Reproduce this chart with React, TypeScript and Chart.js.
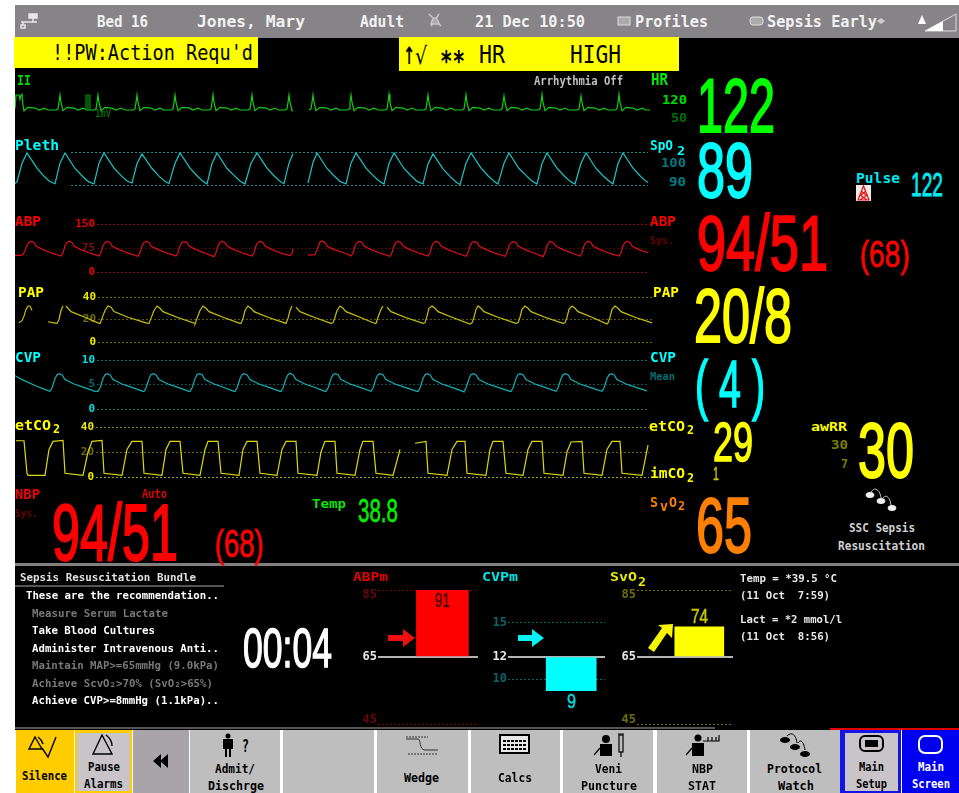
import React, { useEffect, useRef } from "react";
import { Chart, registerables } from "chart.js";

Chart.register(...registerables);

type P = [number, number | null];

// ---- waveform samples: [time, value] ----
const ecgWave: P[] = [
  [15,0.1],[16,1],[19,1],[20,0.7],[21,1],[22,1.05],[23,0.3],[24,-0.05],[28,0.18],[35,0.13],[39,0],[44,0.12],[48,0],
  [56,0],[58,0.08],[59,0.5],[60,1],[61,0.5],[63,-0.05],[67,0.18],[74,0.13],[78,0],[83,0.12],[87,0],
  [94,0],[96,0.08],[97,0.5],[98,1],[99,0.5],[101,-0.05],[105,0.17],[112,0.12],[116,0],[121,0.13],[125,0],
  [133,0],[135,0.08],[136,0.5],[137,1],[138,0.5],[140,-0.05],[144,0.18],[151,0.13],[155,0],[160,0.12],[164,0],
  [171,0],[173,0.08],[174,0.5],[175,1],[176,0.5],[178,-0.05],[182,0.18],[189,0.14],[193,0],[198,0.12],[202,0],
  [209,0],[211,0.08],[212,0.5],[213,1.02],[214,0.5],[216,-0.05],[220,0.18],[227,0.13],[231,0],[236,0.12],[240,0],
  [248,0],[250,0.08],[251,0.5],[252,1],[253,0.5],[255,-0.05],[259,0.18],[266,0.13],[270,0],[275,0.13],[279,0],
  [285,0],[287,0.08],[288,0.5],[289,1],[290,0.5],[292,-0.05],[293,0],[294,null],
  [309,0],[311,0.08],[312,0.5],[313,1],[314,0.5],[316,-0.05],[320,0.18],[327,0.13],[331,0],[336,0.12],[340,0],
  [347,0],[349,0.08],[350,0.5],[351,1],[352,0.5],[354,-0.05],[358,0.18],[365,0.13],[369,0],[374,0.12],[378,0],
  [385,0],[387,0.08],[388,0.5],[389,1.05],[390,0.5],[392,-0.05],[396,0.18],[403,0.13],[407,0],[412,0.13],[416,0],
  [424,0],[426,0.08],[427,0.5],[428,1],[429,0.5],[431,-0.05],[435,0.18],[442,0.13],[446,0],[451,0.12],[455,0],
  [462,0],[464,0.08],[465,0.5],[466,1.02],[467,0.5],[469,-0.05],[473,0.18],[480,0.13],[484,0],[489,0.12],[493,0],
  [500,0],[502,0.08],[503,0.5],[504,0.95],[505,0.5],[507,-0.05],[511,0.18],[518,0.13],[522,0],[527,0.12],[531,0],
  [538,0],[540,0.08],[541,0.5],[542,1.03],[543,0.5],[545,-0.05],[549,0.18],[556,0.13],[560,0],[565,0.13],[569,0],
  [577,0],[579,0.08],[580,0.5],[581,0.95],[582,0.5],[584,-0.05],[588,0.18],[595,0.13],[599,0],[604,0.12],[608,0],
  [615,0],[617,0.08],[618,0.5],[619,1.05],[620,0.5],[622,-0.05],[626,0.18],[633,0.13],[637,0],[642,0.12],[646,0],[650,0],
];
const calPulse: P[] = [[86,0],[86,1.05],[87,null],[88,1.05],[88,0],[89,null],[90,0],[90,1.05]];

const plethWave: P[] = [
  [15,4],[17,10],[22,66],[27,97],[37,51],[43,30],[49,12],[55,4],
  [60,66],[65,97],[75,50],[82,28],[88,11],[94,3],
  [99,66],[104,97],[114,51],[121,29],[127,12],[132,6],
  [137,65],[142,94],[152,50],[159,27],[165,11],[169,4],
  [175,66],[180,97],[190,51],[197,28],[203,11],[207,3],
  [212,65],[217,97],[227,50],[234,29],[240,12],[245,3],
  [251,66],[257,97],[267,51],[274,28],[280,11],[284,4],
  [289,66],[293,95],[294,null],
  [308,6],[313,68],[317,97],[327,50],[334,28],[340,11],[346,3],
  [351,66],[356,97],[366,51],[373,29],[379,12],[384,3],
  [389,65],[394,97],[404,50],[411,28],[417,11],[423,3],
  [428,64],[433,94],[443,49],[450,26],[456,9],[460,1],
  [466,66],[471,97],[481,51],[488,28],[494,11],[498,3],
  [504,66],[509,97],[519,50],[526,29],[532,12],[537,3],
  [542,65],[547,97],[557,51],[564,28],[570,11],[575,3],
  [581,66],[586,97],[596,50],[603,28],[609,12],[613,3],
  [618,65],[623,97],[633,51],[640,28],[646,11],[648,8],
];

const abpWave: P[] = [
  [15,52],[20,52],[23,54],[25,66],[27,84],[29,92],[31,96],[34,92],[36,81],[43,70],[53,58],
  [61,50],[63,60],[65,82],[67,92],[69,96],[72,92],[74,81],[81,70],[91,58],
  [99,50],[101,60],[103,82],[105,92],[107,96],[110,92],[112,81],[119,70],[129,58],
  [138,49],[140,60],[142,82],[144,92],[146,96],[149,92],[151,81],[158,70],[168,58],
  [176,50],[178,60],[180,82],[182,92],[184,95],[187,92],[189,81],[196,70],[206,58],
  [214,48],[216,60],[218,82],[220,92],[222,96],[225,92],[227,81],[234,70],[244,58],
  [252,50],[254,60],[256,82],[258,92],[260,96],[263,92],[265,81],[272,70],[282,58],
  [290,51],[292,58],[293,72],[294,null],
  [308,53],[315,54],[317,70],[319,86],[320,94],[322,97],[325,92],[327,81],[334,70],[344,60],
  [351,50],[353,60],[355,82],[357,92],[359,96],[362,92],[364,81],[371,70],[381,58],
  [390,49],[392,60],[394,82],[396,92],[398,96],[401,92],[403,81],[410,70],[420,58],
  [428,50],[430,60],[432,82],[434,92],[436,96],[439,92],[441,81],[448,70],[458,58],
  [466,49],[468,60],[470,82],[472,92],[474,95],[477,92],[479,81],[486,70],[496,58],
  [505,49],[507,60],[509,82],[511,91],[513,95],[516,92],[518,81],[525,70],[535,58],
  [543,48],[545,60],[547,82],[549,92],[550,96],[553,92],[556,81],[563,70],[573,58],
  [580,50],[582,60],[584,82],[586,92],[588,96],[591,92],[593,81],[600,70],[610,58],
  [619,50],[621,60],[623,82],[625,92],[627,96],[630,92],[632,81],[639,70],[648,60],
];

const papWave: P[] = [
  [19,17],[22,19],[24,23],[26,29],[28,32],[30,32],[32,28],[33,null],
  [48,18],[54,17],[57,16.5],[59,20],[61,28],[63,32],[65,null],
  [66,32],[71,27],[85,22],[98,17],[100,16.5],[102,21],[105,28],[108,32],[111,31],[114,27],[128,22],[146,17],
  [149,16.5],[151,21],[154,28],[157,32],[160,30],[163,27],[177,22],[195,16.5],
  [195,16],[197,21],[200,28],[203,32],[206,30],[209,27],[223,22],[240,16.5],
  [241,16.5],[243,21],[245,28],[248,32],[251,30],[254,27],[268,22],[286,16.5],
  [286,16.5],[288,21],[290,28],[292,32],[294,null],
  [296,31],[300,27],[314,22],[331,16.5],
  [333,17],[335,22],[337,28],[340,32],[343,30],[346,27],[360,22],[375,16.5],
  [376,16.5],[378,22],[381,29],[383,32],[385,null],
  [387,31],[391,27],[405,22],[423,16.5],
  [425,17],[427,23],[429,30],[432,32],[435,30],[438,27],[452,22],[470,16],
  [472,17],[474,22],[476,29],[478,32],[481,30],[484,27],[498,22],[516,16.5],
  [518,17],[520,22],[522,29],[525,32],[528,30],[531,27],[545,22],[563,16.5],
  [565,17],[567,22],[569,29],[572,32],[575,30],[578,27],[592,22],[607,16],
  [608,17],[610,22],[612,29],[615,32],[618,30],[621,27],[635,22],[652,17],
];

const cvpWave: P[] = [
  [15,6.8],[22,6],[35,4.8],[46,3.9],[50,3.6],[52,4.3],[55,6.2],[57,7],[59,7.2],[62,7],[65,6],[74,5.1],[84,4.4],[95,3.6],
  [98,3.6],[100,4.3],[103,6.2],[105,7],[107,7.2],[110,7],[113,6],[122,5.1],[132,4.4],[143,3.6],
  [144,3.6],[146,4.3],[149,6.2],[151,7],[153,7.2],[156,7],[159,6],[168,5.1],[178,4.4],[189,3.6],
  [190,3.6],[192,4.3],[195,6.2],[197,7],[199,7.2],[202,7],[205,6],[214,5.1],[224,4.4],[234,3.6],
  [235,3.6],[237,4.3],[240,6.2],[242,7],[244,7.2],[247,7],[250,6],[259,5.1],[269,4.4],[280,3.6],
  [281,3.6],[283,4.3],[286,6.2],[288,7],[290,7.3],[293,7],[296,6],[305,5.1],[315,4.4],[325,3.6],
  [326,3.6],[328,4.3],[331,6.2],[333,7],[335,7.2],[338,7],[341,6],[350,5.1],[360,4.4],[371,3.6],
  [371,3.6],[373,4.3],[376,6.2],[378,7],[380,7.2],[383,7],[386,6],[395,5.1],[405,4.4],[417,3.6],
  [418,3.6],[420,4.3],[423,6.2],[425,7],[427,7.2],[430,7],[433,6],[442,5.1],[452,4.4],[464,3.5],
  [464,3.6],[466,4.3],[469,6.2],[471,7],[473,7.2],[476,7],[479,6],[488,5.1],[498,4.4],[510,3.6],
  [511,3.6],[513,4.3],[516,6.2],[518,7],[520,7.2],[523,7],[526,6],[535,5.1],[545,4.4],[556,3.6],
  [556,3.6],[558,4.3],[561,6.2],[563,7],[565,7.2],[568,7],[571,6],[580,5.1],[590,4.4],[602,3.6],
  [602,3.6],[604,4.3],[607,6.2],[609,7],[611,7.2],[614,7],[617,6],[626,5.1],[636,4.4],[647,3.7],
];

const co2Wave: P[] = [
  [16,29],[24,29],[27,3],[28,1.3],[45,1.3],[49,22],[53,28.5],[63,29.3],[65,3],[83,1.3],[88,20],[92,28.5],[102,29.3],[104,3],
  [122,1.3],[127,22],[132,28.5],[142,28.5],[144,3],[162,1.3],[166,22],[170,28.5],[180,28.5],[183,3],[200,1.3],[205,22],[208,28.5],
  [218,28.5],[221,3],[239,1.3],[243,22],[247,28.5],[257,28.5],[260,3],[277,1.3],[282,22],[286,28.5],[296,28.5],[298,3],[317,1.3],[321,20],
  [325,28.5],[335,28.5],[337,3],[355,1.3],[360,22],[363,28.5],[373,28.5],[376,3],[393,1.3],[400,22],[401,null],
  [415,27],[426,28.5],[428,3],[447,1.3],[452,22],[457,28.5],[465,28.5],[467,3],[486,1.3],[490,22],[493,28.5],[503,28.5],[506,3],
  [523,1.3],[528,22],[532,28.5],[542,28.5],[544,3],[563,1.3],[567,20],[571,28],[582,28.5],[584,3],[602,1.3],[607,22],[612,28.5],
  [620,28.5],[622,3],[642,1.3],[648,25.5],
];

// ---- target bars ----
const abpmValues = [91];
const cvpmValues = [9];
const svo2Values = [74];

const abpTicks = [150, 75, 0];
const papTicks = [40, 20, 0];
const cvpTicks = [10, 5, 0];
const co2Ticks = [40, 20, 0];
const plethTicks = [100, 0];
const abpmTicks = [85, 65, 45];
const cvpmTicks = [15, 12, 10];
const svo2Ticks = [85, 65, 45];

const MONO = '"DejaVu Sans Mono", monospace';
const BIG = '"Liberation Sans", Arial, sans-serif';

const toXY = (pts: P[]) => pts.map(([x, y]) => ({ x, y }));

function waveConfig(o: any) {
  const PAD = 10;
  const canvasL = 15;
  const canvasR = 660;
  return {
    box: { left: canvasL, top: o.yTop - PAD, width: canvasR - canvasL, height: o.yBot - o.yTop + 2 * PAD },
    config: {
      type: "line",
      data: {
        datasets: o.series.map((s: any) => ({
          data: toXY(s.pts),
          borderColor: s.color,
          borderWidth: 1.2,
          pointRadius: 0,
          tension: 0,
          clip: false,
          spanGaps: false,
        })),
      },
      options: {
        animation: false,
        responsive: false,
        events: [],
        layout: { padding: { top: PAD, bottom: PAD, left: 0, right: canvasR - o.gridR } },
        plugins: { legend: { display: false }, tooltip: { enabled: false } },
        scales: {
          x: {
            type: "linear",
            display: false,
            afterBuildTicks: (s: any) => {
              s.min = o.gridL;
              s.max = o.gridR;
            },
          },
          y: {
            display: o.ticks ? true : false,
            min: o.min,
            max: o.max,
            afterFit: (s: any) => {
              s.width = o.gridL - canvasL;
            },
            afterBuildTicks: (s: any) => {
              if (o.ticks) s.ticks = o.ticks.map((value: number) => ({ value }));
            },
            border: { display: false, dash: [2, 2] },
            grid: {
              drawTicks: false,
              color: (c: any) => (o.gridColors ? o.gridColors[c.index] : "transparent"),
              lineWidth: 1,
            },
            ticks: {
              display: !o.hideLabels,
              autoSkip: false,
              padding: 2,
              color: (c: any) => (o.tickColors ? o.tickColors[c.index] : "#fff"),
              font: { family: MONO, size: 11, weight: "bold" },
              callback: (v: any) => String(v),
            },
          },
        },
      },
    },
  };
}

function barConfig(o: any) {
  const canvasL = o.gridL - 30;
  const canvasR = o.gridR + 4;
  const PAD = 9;
  return {
    box: { left: canvasL, top: o.yTop - PAD, width: canvasR - canvasL, height: o.yBot - o.yTop + 2 * PAD },
    config: {
      type: "bar",
      data: {
        datasets: [
          {
            data: o.values.map((y: number) => ({ x: o.center, y })),
            base: o.base,
            barThickness: o.thickness,
            backgroundColor: o.color,
            borderWidth: 0,
          },
        ],
      },
      options: {
        animation: false,
        responsive: false,
        events: [],
        layout: { padding: { top: PAD, bottom: PAD, left: 0, right: canvasR - o.gridR } },
        plugins: { legend: { display: false }, tooltip: { enabled: false } },
        scales: {
          x: { type: "linear", display: false, offset: false, min: o.gridL, max: o.gridR, grid: { offset: false } },
          y: {
            min: o.min,
            max: o.max,
            afterFit: (s: any) => {
              s.width = o.gridL - canvasL;
            },
            afterBuildTicks: (s: any) => {
              s.ticks = o.ticks.map((value: number) => ({ value }));
            },
            border: {
              display: false,
              dash: (c: any) => (o.ticks[c.index] === o.base ? [] : [2, 2]),
            },
            grid: {
              drawTicks: false,
              color: (c: any) => (o.ticks[c.index] === o.base ? "#b4b4b4" : o.dim),
              lineWidth: (c: any) => (o.ticks[c.index] === o.base ? 2 : 1),
            },
            ticks: {
              autoSkip: false,
              padding: 1,
              color: (c: any) => (o.ticks[c.index] === o.base ? "#e8e8e8" : o.dimText),
              font: { family: MONO, size: 12, weight: "bold", lineHeight: "9px" },
              // the outer labels sit just inside the dotted limit lines
              callback: (v: any) => {
                if (!o.insetLabels || v === o.base) return String(v);
                return v === o.max ? ["", String(v)] : [String(v), ""];
              },
            },
          },
        },
      },
    },
  };
}

const charts = [
  waveConfig({ series: [{ pts: calPulse, color: "#0a8f0a" }, { pts: ecgWave, color: "#14cc14" }], yTop: 90, yBot: 120, gridL: 15, gridR: 650, min: -0.667, max: 1.333 }),
  waveConfig({ series: [{ pts: plethWave, color: "#1cc4c8" }], yTop: 152, yBot: 185, gridL: 71, gridR: 648, min: 0, max: 100, ticks: plethTicks, hideLabels: true, gridColors: ["#168f90", "#168f90"] }),
  waveConfig({ series: [{ pts: abpWave, color: "#dc0f18" }], yTop: 224, yBot: 272, gridL: 97, gridR: 649, min: 0, max: 150, ticks: abpTicks, gridColors: ["#7a0c0c", "#4a0808", "#7a0c0c"], tickColors: ["#e80000", "#7a1414", "#e80000"] }),
  waveConfig({ series: [{ pts: papWave, color: "#c8c008" }], yTop: 297, yBot: 342, gridL: 98, gridR: 652, min: 0, max: 40, ticks: papTicks, gridColors: ["#6e6a08", "#5a5806", "#6e6a08"], tickColors: ["#f0ec00", "#6e6c10", "#f0ec00"] }),
  waveConfig({ series: [{ pts: cvpWave, color: "#16b0b4" }], yTop: 360, yBot: 409, gridL: 97, gridR: 649, min: 0, max: 10, ticks: cvpTicks, gridColors: ["#0c7074", "#085054", "#0c7074"], tickColors: ["#00e0e4", "#0a6a6c", "#00e0e4"] }),
  waveConfig({ series: [{ pts: co2Wave, color: "#dcd810" }], yTop: 427, yBot: 477, gridL: 96, gridR: 649, min: 0, max: 40, ticks: co2Ticks, gridColors: ["#86820c", "#6a680a", "#a8a40c"], tickColors: ["#f0ec00", "#6e6c10", "#f0ec00"] }),
  barConfig({ values: abpmValues, ticks: abpmTicks, base: 65, color: "#ff0000", gridL: 378, gridR: 478, center: 442.4, thickness: 52, yTop: 589, yBot: 725, min: 45, max: 85, insetLabels: true, dim: "#6a0808", dimText: "#6a0808" }),
  barConfig({ values: cvpmValues, ticks: cvpmTicks, base: 12, color: "#00ffff", gridL: 508, gridR: 605, center: 571.2, thickness: 50, yTop: 611, yBot: 702, min: 8, max: 16, dim: "#0a6468", dimText: "#0a6468" }),
  barConfig({ values: svo2Values, ticks: svo2Ticks, base: 65, color: "#ffff00", gridL: 637, gridR: 733, center: 699.3, thickness: 49, yTop: 589, yBot: 725, min: 45, max: 85, insetLabels: true, dim: "#6e6c08", dimText: "#6e6c08" }),
];

function ChartCanvas({ box, config }: any) {
  const ref = useRef<HTMLCanvasElement | null>(null);
  useEffect(() => {
    const chart = new Chart(ref.current as any, config);
    return () => chart.destroy();
  }, []);
  return (
    <canvas
      ref={ref}
      width={box.width}
      height={box.height}
      style={{ position: "absolute", left: box.left, top: box.top, width: box.width, height: box.height }}
    />
  );
}

let measureCtx: CanvasRenderingContext2D | null = null;
function measure(font: string, text: string) {
  if (!measureCtx) measureCtx = document.createElement("canvas").getContext("2d");
  const c = measureCtx as CanvasRenderingContext2D;
  c.font = font;
  const m = c.measureText(text);
  return { w: m.width, a: m.fontBoundingBoxAscent, d: m.fontBoundingBoxDescent };
}

// text fitted to x1..x2 with its baseline at `base`
function T({ s, x1, x2, base, size, color, family = MONO, weight = 700, stroke = 0 }: any) {
  const font = `${weight} ${size}px ${family}`;
  const m = measure(font, s);
  return (
    <span
      style={{
        position: "absolute",
        left: x1,
        top: base - m.a,
        font,
        lineHeight: `${m.a + m.d}px`,
        color,
        whiteSpace: "pre",
        transformOrigin: "left top",
        transform: `scaleX(${(x2 - x1) / m.w})`,
        WebkitTextStroke: stroke ? `${stroke}px ${color}` : undefined,
      }}
    >
      {s}
    </span>
  );
}

// tall condensed numerals
function N({ s, x1, x2, top, base, color }: any) {
  const size = (base - top) / 0.71;
  return <T s={s} x1={x1} x2={x2} base={base} size={size} color={color} family={BIG} weight={400} stroke={size * 0.025} />;
}

function Btn({ x, w, bg }: any) {
  return <div style={{ position: "absolute", left: x, top: 730, width: w, height: 63, background: bg }} />;
}

const B = "#000000";
const WH = "#f2f2f2";

export default function App() {
  return (
    <div style={{ position: "absolute", left: 0, top: 0, width: 959, height: 793, background: "#fff", overflow: "hidden" }}>
      <div style={{ position: "absolute", left: 15, top: 5, width: 944, height: 725, background: "#000" }} />
      <div style={{ position: "absolute", left: 15, top: 5, width: 944, height: 32.5, background: "#878487" }} />

      {/* alarm bars */}
      <div style={{ position: "absolute", left: 14, top: 37, width: 244, height: 31, background: "#ffff00" }} />
      <div style={{ position: "absolute", left: 399, top: 37, width: 280, height: 34, background: "#ffff00" }} />

      {/* dividers */}
      <div style={{ position: "absolute", left: 15, top: 563, width: 944, height: 3, background: "#808080" }} />
      <div style={{ position: "absolute", left: 15, top: 585, width: 209, height: 1.5, background: "#555" }} />
      <div style={{ position: "absolute", left: 15, top: 727, width: 700, height: 2, background: "#555" }} />
      <div style={{ position: "absolute", left: 830, top: 728, width: 129, height: 2, background: "#e00000" }} />

      {/* softkeys */}
      <Btn x={16} w={58} bg="#ffcc00" />
      <Btn x={75} w={57} bg="#ffcc00" />
      <div style={{ position: "absolute", left: 77, top: 733, width: 53, height: 58, background: "#c8c4c8" }} />
      <Btn x={133} w={56} bg="#a8a4a8" />
      <Btn x={190} w={90} bg="#bebebe" />
      <Btn x={283} w={91} bg="#bebebe" />
      <Btn x={377} w={91} bg="#bebebe" />
      <Btn x={471} w={89} bg="#bebebe" />
      <Btn x={563} w={90} bg="#bebebe" />
      <Btn x={657} w={90} bg="#bebebe" />
      <Btn x={750} w={90} bg="#bebebe" />
      <Btn x={840} w={61} bg="#1414e6" />
      <div style={{ position: "absolute", left: 845, top: 733, width: 53, height: 58, background: "#c8c4c8" }} />
      <Btn x={902} w={57} bg="#0000f0" />

      {charts.map((c, i) => (
        <ChartCanvas key={i} box={c.box} config={c.config} />
      ))}

      {/* header */}
      <T s="Bed 16" x1={97} x2={148} base={27} size={15} color={WH} />
      <T s="Jones, Mary" x1={197} x2={305} base={27} size={15} color={WH} />
      <T s="Adult" x1={360} x2={404} base={27} size={15} color={WH} />
      <T s="21 Dec 10:50" x1={475} x2={585} base={27} size={15} color={WH} />
      <T s="Profiles" x1={635} x2={708} base={27} size={15} color={WH} />
      <T s="Sepsis Early" x1={767} x2={877} base={27} size={15} color={WH} />

      <T s="!!PW:Action Requ'd" x1={52} x2={253} base={60} size={22} color={B} weight={400} />
      <T s="↑" x1={403} x2={415} base={64} size={24} color={B} family='"DejaVu Sans"' />
      <T s="√" x1={415} x2={427} base={64} size={24} color={B} family='"DejaVu Sans"' weight={400} />
      <T s="**" x1={440} x2={465} base={71} size={28} color={B} />
      <T s="HR" x1={479} x2={505} base={63} size={25} color={B} weight={400} />
      <T s="HIGH" x1={570} x2={621} base={63} size={25} color={B} weight={400} />

      {/* ECG */}
      <T s="II" x1={17} x2={31} base={85} size={14} color="#00e000" />
      <T s="Arrhythmia Off" x1={534} x2={623} base={85} size={12} color="#c0c0c0" />
      <T s="1mV" x1={95} x2={111} base={117} size={10} color="#0a8a0a" weight={400} />
      <T s="HR" x1={651} x2={668} base={85} size={15} color="#00f000" />
      <T s="120" x1={662} x2={687} base={104} size={13} color="#00d800" />
      <T s="50" x1={671} x2={687} base={122} size={13} color="#007000" />
      <N s="122" x1={697} x2={775} top={78} base={132} color="#00ff00" />

      {/* Pleth */}
      <T s="Pleth" x1={15} x2={59} base={150} size={14} color="#00ffff" />
      <T s="SpO" x1={650} x2={673} base={150} size={14} color="#00ffff" />
      <T s="2" x1={677} x2={685} base={155} size={13} color="#00ffff" />
      <T s="100" x1={661} x2={686} base={167} size={13} color="#007a80" />
      <T s="90" x1={669} x2={686} base={186} size={13} color="#007a80" />
      <N s="89" x1={697} x2={753} top={142} base={197} color="#00ffff" />
      <T s="Pulse" x1={856} x2={900} base={183} size={14} color="#00e8f0" />
      <N s="122" x1={911} x2={943} top={173} base={196} color="#00e8f0" />

      {/* ABP */}
      <T s="ABP" x1={15} x2={41} base={226} size={14} color="#ff0000" />
      <T s="ABP" x1={650} x2={676} base={226} size={14} color="#ff0000" />
      <T s="Sys." x1={650} x2={674} base={244} size={11} color="#6a0000" />
      <N s="94/51" x1={697} x2={828} top={215} base={270} color="#ff0000" />
      <N s="(68)" x1={860} x2={910} top={241} base={267} color="#ff0000" />

      {/* PAP */}
      <T s="PAP" x1={18} x2={44} base={297} size={14} color="#ffff00" />
      <T s="PAP" x1={653} x2={679} base={297} size={14} color="#ffff00" />
      <N s="20/8" x1={694} x2={792} top={288} base={342} color="#ffff00" />

      {/* CVP */}
      <T s="CVP" x1={15} x2={41} base={362} size={14} color="#00ffff" />
      <T s="CVP" x1={650} x2={676} base={362} size={14} color="#00ffff" />
      <T s="Mean" x1={650} x2={675} base={380} size={11} color="#007076" />
      <N s="( 4 )" x1={695} x2={765} top={360} base={407} color="#00ffff" />

      {/* CO2 */}
      <T s="etCO" x1={15} x2={51} base={430} size={14} color="#ffff00" />
      <T s="2" x1={53} x2={60} base={433} size={13} color="#ffff00" />
      <T s="etCO" x1={649} x2={685} base={431} size={14} color="#ffff00" />
      <T s="2" x1={687} x2={694} base={434} size={13} color="#ffff00" />
      <T s="imCO" x1={650} x2={685} base={478} size={14} color="#ffff00" />
      <T s="2" x1={687} x2={694} base={482} size={13} color="#ffff00" />
      <N s="29" x1={713} x2={753} top={421} base={461} color="#ffff00" />
      <N s="1" x1={713} x2={719} top={467} base={480} color="#c8c800" />
      <T s="awRR" x1={811} x2={847} base={431} size={13} color="#ffff00" />
      <T s="30" x1={831} x2={848} base={449} size={13} color="#7a7a00" />
      <T s="7" x1={841} x2={848} base={468} size={13} color="#7a7a00" />
      <N s="30" x1={858} x2={914} top={422} base={477} color="#ffff00" />

      <T s="SSC Sepsis" x1={849} x2={915} base={532} size={12} color="#d0d0d0" />
      <T s="Resuscitation" x1={838} x2={925} base={550} size={12} color="#d0d0d0" />

      {/* SvO2 */}
      <T s="S" x1={650} x2={658} base={507} size={14} color="#ff8000" />
      <T s="v" x1={660} x2={668} base={511} size={14} color="#ff8000" />
      <T s="O" x1={669} x2={677} base={507} size={14} color="#ff8000" />
      <T s="2" x1={678} x2={685} base={510} size={13} color="#ff8000" />
      <N s="65" x1={696} x2={752} top={497} base={552} color="#ff8000" />

      {/* NBP */}
      <T s="NBP" x1={15} x2={40} base={499} size={14} color="#f00000" />
      <T s="Sys." x1={15} x2={38} base={517} size={11} color="#6a0000" />
      <T s="Auto" x1={142} x2={167} base={498} size={12} color="#e00000" />
      <N s="94/51" x1={52} x2={178} top={504} base={560} color="#ff0000" />
      <N s="(68)" x1={215} x2={264} top={529} base={557} color="#ff0000" />

      <T s="Temp" x1={312} x2={346} base={508} size={13} color="#00f000" />
      <N s="38.8" x1={358} x2={398} top={499} base={522} color="#00ee00" />

      {/* bundle */}
      <T s="Sepsis Resuscitation Bundle" x1={20} x2={196} base={581} size={11} color="#e0e0e0" />
      <T s="These are the recommendation.." x1={26} x2={219} base={599} size={11} color="#ffffff" />
      <T s="Measure Serum Lactate" x1={32} x2={168} base={617} size={11} color="#787878" />
      <T s="Take Blood Cultures" x1={32} x2={155} base={634} size={11} color="#ffffff" />
      <T s="Administer Intravenous Anti.." x1={32} x2={219} base={652} size={11} color="#ffffff" />
      <T s="Maintain MAP>=65mmHg (9.0kPa)" x1={32} x2={219} base={669} size={11} color="#787878" />
      <T s="Achieve ScvO₂>70% (SvO₂>65%)" x1={32} x2={213} base={687} size={11} color="#787878" />
      <T s="Achieve CVP>=8mmHg (1.1kPa).." x1={32} x2={219} base={704} size={11} color="#ffffff" />
      <N s="00:04" x1={243} x2={332} top={628} base={667} color="#ffffff" />

      {/* target indicators */}
      <T s="ABPm" x1={353} x2={388} base={581} size={13} color="#e80000" />
      <T s="CVPm" x1={482} x2={518} base={581} size={13} color="#00e8e8" />
      <T s="SvO" x1={610} x2={637} base={581} size={13} color="#e8e800" />
      <T s="2" x1={638} x2={646} base={586} size={13} color="#e8e800" />
      <N s="91" x1={435} x2={450} top={592} base={607} color="#4a0c0c" />
      <N s="9" x1={567} x2={576} top={693} base={708} color="#00d8dc" />
      <N s="74" x1={691} x2={708} top={608} base={623} color="#c8c800" />

      <T s="Temp = *39.5 °C" x1={740} x2={837} base={582} size={11} color="#e8e8e8" />
      <T s="(11 Oct  7:59)" x1={740} x2={830} base={599} size={11} color="#e8e8e8" />
      <T s="Lact = *2 mmol/l" x1={740} x2={842} base={623} size={11} color="#e8e8e8" />
      <T s="(11 Oct  8:56)" x1={740} x2={830} base={640} size={11} color="#e8e8e8" />

      {/* softkey text */}
      <T s="Silence" x1={22} x2={67} base={780} size={12} color={B} />
      <T s="Pause" x1={88} x2={120} base={771} size={12} color={B} />
      <T s="Alarms" x1={84} x2={123} base={788} size={12} color={B} />
      <T s="?" x1={242} x2={249} base={752} size={17} color={B} />
      <T s="Admit/" x1={215} x2={255} base={773} size={12} color={B} />
      <T s="Dischrge" x1={208} x2={264} base={790} size={12} color={B} />
      <T s="Wedge" x1={404} x2={439} base={782} size={12} color={B} />
      <T s="Calcs" x1={498} x2={532} base={782} size={12} color={B} />
      <T s="Veni" x1={595} x2={622} base={773} size={12} color={B} />
      <T s="Puncture" x1={581} x2={637} base={790} size={12} color={B} />
      <T s="NBP" x1={692} x2={713} base={773} size={12} color={B} />
      <T s="STAT" x1={688} x2={716} base={790} size={12} color={B} />
      <T s="Protocol" x1={767} x2={822} base={773} size={12} color={B} />
      <T s="Watch" x1={778} x2={814} base={790} size={12} color={B} />
      <T s="Main" x1={859} x2={884} base={771} size={12} color={B} />
      <T s="Setup" x1={856} x2={887} base={788} size={12} color={B} />
      <T s="Main" x1={918} x2={944} base={771} size={12} color="#ffffff" />
      <T s="Screen" x1={912} x2={950} base={788} size={12} color="#ffffff" />

      {/* icons */}
      <svg width={959} height={793} style={{ position: "absolute", left: 0, top: 0 }}>
        {/* header */}
        <g stroke="#e8e8e8" strokeWidth={1.5} fill="none">
          <rect x={29} y={14} width={8} height={4} fill="#e8e8e8" />
          <path d="M21 22H37M33 18V22M23 22V25" />
          <rect x={21} y={25} width={4} height={3} />
        </g>
        <g stroke="#c8c8c8" strokeWidth={1.5} fill="none">
          <path d="M431 26L439 14M441 26L429 14" />
          <path d="M431 24C433 16 437 16 439 24Z" fill="#aaa" />
        </g>
        <rect x={618} y={17} width={12} height={8} fill="#aaa" stroke="#ddd" />
        <rect x={750} y={17} width={13} height={8} rx={3} fill="#aaa" stroke="#ddd" />
        <path d="M881 18L885 21L881 24L877 21Z" fill="#cfcfcf" />
        <path d="M922 15L926 24H918Z" fill="#fff" />
        <path d="M925 31L956 14V31Z" fill="none" stroke="#ddd" />
        <path d="M925 31L943 21V31Z" fill="#fff" />

        {/* pulse alarm-off */}
        <rect x={856} y={185} width={15} height={16} fill="#f4e8e8" />
        <path d="M863.5 186L858 200H869ZM860 195L867 200M867 195L860 200M861 191L866 195M866 191L861 195" fill="none" stroke="#e81010" strokeWidth={1.2} />

        {/* protocol */}
        <g fill="#f0f0f0" stroke="#f0f0f0">
          <ellipse cx={870} cy={495} rx={4} ry={2.5} />
          <ellipse cx={881} cy={501} rx={4} ry={2.5} />
          <ellipse cx={892} cy={508} rx={4} ry={2.5} />
          <path d="M871 492C875 486 880 490 881 498M883 498C886 494 890 497 891 505" fill="none" strokeWidth={0.8} />
        </g>

        {/* trend arrows */}
        <path d="M388 635H403V629L415 638L403 647V641H388Z" fill="#ee1010" />
        <path d="M518 635H532V629L544 638L532 647V641H518Z" fill="#00f4f4" />
        <path d="M673 624L672 638L667 633L654 652L648 648L662 628L658 625Z" fill="#f6f600" />

        {/* softkey icons */}
        <g fill="none" stroke="#000" strokeWidth={1.4}>
          <path d="M35 737L42 749H29Z" />
          <path d="M42 748L48 757L56 737" />
          <path d="M38 737C41 739 42 741 43 744" />
          <path d="M102 735L112 754H93Z" />
          <path d="M106 735C110 738 112 741 112 746" />
        </g>
        <path d="M153 761L161 754V768ZM160 761L168 754V768Z" fill="#000" />
        <g fill="#000">
          <circle cx={228} cy={736} r={2.5} />
          <path d="M223 739H233V749H231V757H229V749H227V757H225V749H223Z" />
        </g>
        <g fill="none" stroke="#333" strokeWidth={1}>
          <path d="M406 737H428" strokeDasharray="2 1" />
          <path d="M406 739H418C421 739 419 750 425 750H438" />
          <path d="M408 754H438" strokeDasharray="2 1" />
        </g>
        <rect x={500} y={735} width={29} height={18} fill="#e8e8e8" stroke="#000" strokeWidth={2} />
        <path d="M503 741H526M503 745H526M503 749H526" stroke="#000" strokeWidth={2} strokeDasharray="3 1" />
        <g fill="#000">
          <circle cx={606} cy={739} r={4} />
          <path d="M600 744H612V756H600Z" />
          <circle cx={698} cy={738} r={3.5} />
          <path d="M692 743H704V756H692Z" />
        </g>
        <g fill="none" stroke="#000" strokeWidth={1.2}>
          <path d="M600 748L594 755" />
          <rect x={619} y={735} width={4} height={17} />
          <path d="M621 752V757M618 734H624" />
          <path d="M692 748L686 755" />
          <path d="M703 741H719V735M708 741V737M712 741V737M716 741V737" />
        </g>
        <g fill="#000">
          <ellipse cx={785} cy={740} rx={5} ry={3} />
          <ellipse cx={795} cy={747} rx={5} ry={3} />
          <ellipse cx={805} cy={754} rx={5} ry={3} />
        </g>
        <path d="M787 736C792 731 796 735 797 743M798 743C801 738 804 743 805 750" fill="none" stroke="#000" />
        <rect x={860} y={736} width={23} height={15} rx={5} fill="none" stroke="#000" strokeWidth={2} />
        <rect x={865} y={740} width={13} height={7} fill="#000" />
        <rect x={919} y={736} width={23} height={17} rx={6} fill="none" stroke="#fff" strokeWidth={2} />
      </svg>
    </div>
  );
}
